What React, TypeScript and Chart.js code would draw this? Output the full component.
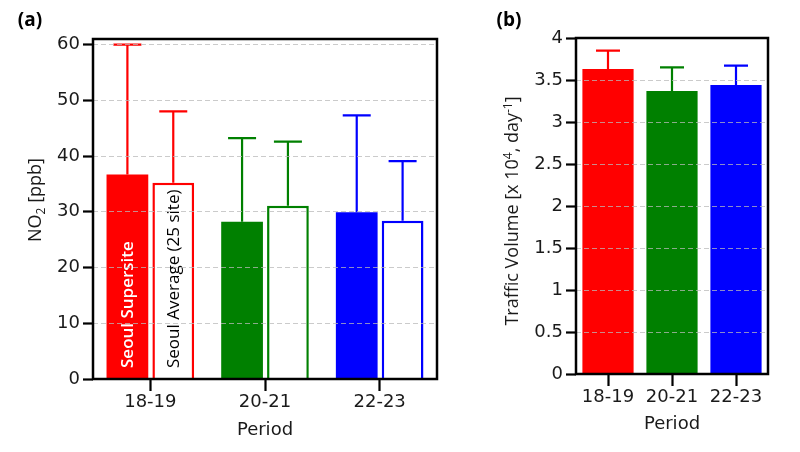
import { useEffect, useRef } from 'react';
import { Chart, registerables } from 'chart.js';

Chart.register(...registerables);

// Periods and their colours
const periods = ['18-19', '20-21', '22-23'];
const periodColors = ['#ff0000', '#008000', '#0000ff'];

// (a) NO2 concentration [ppb], mean and standard deviation
const supersiteNO2 = [36.7, 28.2, 29.9];
const supersiteNO2Sd = [23.3, 15.0, 17.4];
const averageNO2 = [35.2, 31.1, 28.4];
const averageNO2Sd = [12.8, 11.5, 10.7];
const no2Series = ['Seoul Supersite', 'Seoul Average (25 site)'];

// (b) Traffic volume [x 10^4 day^-1], mean and standard deviation
const trafficVolume = [3.63, 3.37, 3.44];
const trafficVolumeSd = [0.22, 0.28, 0.23];

const TICK_FONT = { family: '"DejaVu Sans", sans-serif', size: 18 };
const TEXT_COLOR = '#1a1a1a';

type Seg = { t: string; sup?: boolean; sub?: boolean };

// Upward error bars from each bar top
const errorBars = {
  id: 'errorBars',
  afterDatasetsDraw(chart: any, _args: any, opts: any) {
    const { ctx } = chart;
    const yScale = chart.scales.y;
    chart.data.datasets.forEach((ds: any, di: number) => {
      if (!ds.sd) return;
      const meta = chart.getDatasetMeta(di);
      meta.data.forEach((bar: any, i: number) => {
        const yEnd = yScale.getPixelForValue(ds.data[i] + ds.sd[i]);
        const half = opts.cap / 2;
        ctx.save();
        ctx.strokeStyle = periodColors[i];
        ctx.lineWidth = 2.2;
        ctx.beginPath();
        ctx.moveTo(bar.x, bar.y);
        ctx.lineTo(bar.x, yEnd);
        ctx.moveTo(bar.x - half, yEnd);
        ctx.lineTo(bar.x + half, yEnd);
        ctx.stroke();
        ctx.restore();
      });
    });
  },
};

// Series names written vertically inside the first group of bars
const insideLabels = {
  id: 'insideLabels',
  afterDatasetsDraw(chart: any) {
    const { ctx, chartArea } = chart;
    chart.data.datasets.forEach((ds: any, di: number) => {
      if (!ds.insideColor) return;
      const bar: any = chart.getDatasetMeta(di).data[0];
      ctx.save();
      ctx.translate(bar.x, chartArea.bottom - 11);
      ctx.rotate(-Math.PI / 2);
      ctx.font = `${ds.insideWeight} 17px "Open Sans", sans-serif`;
      ctx.fillStyle = ds.insideColor;
      ctx.textAlign = 'left';
      ctx.textBaseline = 'middle';
      ctx.fillText(ds.label, 0, 1);
      ctx.restore();
    });
  },
};

// Frame around the plot, rotated y title with super/subscripts, panel tag
const decor = {
  id: 'decor',
  afterDraw(chart: any, _args: any, opts: any) {
    const { ctx, chartArea: a } = chart;
    ctx.save();
    ctx.strokeStyle = '#000';
    ctx.lineWidth = 2.5;
    ctx.strokeRect(a.left, a.top, a.right - a.left, a.bottom - a.top);
    ctx.restore();

    // y title
    const size = opts.titleSize;
    const small = Math.round(size * 0.64);
    const segs: Seg[] = opts.yTitle;
    ctx.save();
    ctx.translate(opts.titleX, opts.titleY);
    ctx.rotate(-Math.PI / 2);
    ctx.fillStyle = TEXT_COLOR;
    ctx.textBaseline = 'alphabetic';
    ctx.textAlign = 'left';
    const fontOf = (s: Seg) => `${s.sup || s.sub ? small : size}px "Open Sans", sans-serif`;
    let total = 0;
    segs.forEach((s) => {
      ctx.font = fontOf(s);
      total += ctx.measureText(s.t).width;
    });
    let x = -total / 2;
    const base = size * 0.36;
    segs.forEach((s) => {
      ctx.font = fontOf(s);
      const dy = s.sup ? -size * 0.38 : s.sub ? size * 0.22 : 0;
      ctx.fillText(s.t, x, base + dy);
      x += ctx.measureText(s.t).width;
    });
    ctx.restore();

    // panel tag
    ctx.save();
    ctx.font = 'bold 19px "Open Sans", sans-serif';
    ctx.fillStyle = '#000';
    ctx.textAlign = 'center';
    ctx.textBaseline = 'middle';
    ctx.fillText(opts.tag, opts.tagX, opts.tagY);
    ctx.restore();
  },
};

function scales(opts: {
  yMin: number;
  yMax: number;
  yStep: number;
  yWidth: number;
  xHeight: number;
  titlePad: number;
}) {
  return {
    x: {
      afterFit: (s: any) => {
        s.height = opts.xHeight;
      },
      grid: {
        display: true,
        offset: false,
        drawOnChartArea: false,
        drawTicks: true,
        tickLength: 12,
        tickColor: '#000',
        tickWidth: 2.2,
        color: 'rgba(0,0,0,0)',
      },
      border: { display: false },
      ticks: { font: TICK_FONT, color: TEXT_COLOR, padding: 1, maxRotation: 0 },
      title: {
        display: true,
        text: 'Period',
        font: TICK_FONT,
        color: TEXT_COLOR,
        padding: { top: 0, bottom: opts.titlePad },
      },
    },
    y: {
      min: opts.yMin,
      max: opts.yMax,
      afterFit: (s: any) => {
        s.width = opts.yWidth;
      },
      grid: {
        z: 1,
        color: 'rgba(185,185,185,0.75)',
        lineWidth: 1,
        tickLength: 10,
        tickColor: '#000',
        tickWidth: 2.2,
        tickBorderDash: [],
      },
      border: { display: false, dash: [5, 3] },
      ticks: {
        stepSize: opts.yStep,
        includeBounds: false,
        font: TICK_FONT,
        color: TEXT_COLOR,
        padding: 3,
        callback: (v: number) => String(Math.round(v * 100) / 100),
      },
    },
  };
}

function useChart(ref: any, build: () => any) {
  useEffect(() => {
    const chart = new Chart(ref.current, build());
    return () => chart.destroy();
  }, []);
}

export default function App() {
  const refA = useRef<HTMLCanvasElement>(null);
  const refB = useRef<HTMLCanvasElement>(null);

  useChart(refA, () => ({
    type: 'bar',
    data: {
      labels: periods,
      datasets: [
        {
          label: no2Series[0],
          data: supersiteNO2,
          sd: supersiteNO2Sd,
          backgroundColor: periodColors,
          borderWidth: 0,
          insideColor: '#ffffff',
          insideWeight: 600,
        },
        {
          label: no2Series[1],
          data: averageNO2,
          sd: averageNO2Sd,
          backgroundColor: '#ffffff',
          borderColor: periodColors,
          borderWidth: 2.5,
          borderSkipped: 'start',
          insideColor: '#000000',
          insideWeight: 400,
        },
      ],
    },
    options: {
      animation: false,
      responsive: true,
      maintainAspectRatio: false,
      datasets: { bar: { categoryPercentage: 0.8, barPercentage: 0.91 } },
      layout: { padding: { left: 0, right: 33, top: 39, bottom: 0 } },
      scales: scales({ yMin: 0, yMax: 61, yStep: 10, yWidth: 93, xHeight: 73, titlePad: 11 }),
      plugins: {
        legend: { display: false },
        tooltip: { enabled: false },
        errorBars: { cap: 28 },
        decor: {
          tag: '(a)',
          tagX: 30,
          tagY: 21,
          titleX: 35,
          titleY: 200,
          titleSize: 18,
          yTitle: [{ t: 'NO' }, { t: '2', sub: true }, { t: ' [ppb]' }],
        },
      },
    },
    plugins: [errorBars, insideLabels, decor],
  }));

  useChart(refB, () => ({
    type: 'bar',
    data: {
      labels: periods,
      datasets: [
        {
          label: 'Traffic Volume',
          data: trafficVolume,
          sd: trafficVolumeSd,
          backgroundColor: periodColors,
          borderWidth: 0,
        },
      ],
    },
    options: {
      animation: false,
      responsive: true,
      maintainAspectRatio: false,
      datasets: { bar: { categoryPercentage: 0.8, barPercentage: 1.0 } },
      layout: { padding: { left: 0, right: 32, top: 38, bottom: 0 } },
      scales: scales({ yMin: 0, yMax: 4, yStep: 0.5, yWidth: 106, xHeight: 78, titlePad: 17 }),
      plugins: {
        legend: { display: false },
        tooltip: { enabled: false },
        errorBars: { cap: 24 },
        decor: {
          tag: '(b)',
          tagX: 39,
          tagY: 21,
          titleX: 42,
          titleY: 211,
          titleSize: 18,
          yTitle: [
            { t: 'Traffic Volume [x 10' },
            { t: '4', sup: true },
            { t: ', day' },
            { t: '-1', sup: true },
            { t: ']' },
          ],
        },
      },
    },
    plugins: [errorBars, decor],
  }));

  return (
    <div
      style={{
        position: 'fixed',
        left: 0,
        top: 0,
        width: 800,
        height: 452,
        background: '#ffffff',
      }}
    >
      <div style={{ position: 'absolute', left: 0, top: 0, width: 470, height: 452 }}>
        <canvas ref={refA} />
      </div>
      <div style={{ position: 'absolute', left: 470, top: 0, width: 330, height: 452 }}>
        <canvas ref={refB} />
      </div>
    </div>
  );
}
